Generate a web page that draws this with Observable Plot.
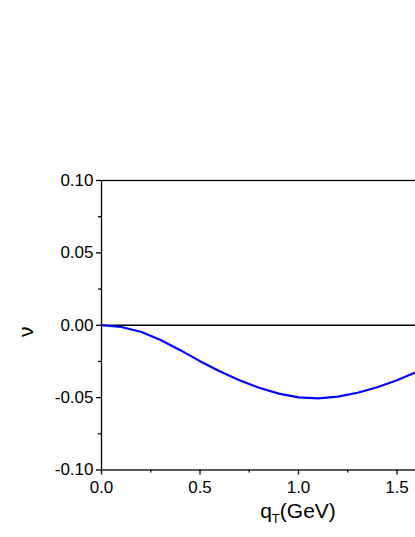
<!DOCTYPE html>
<html><head><meta charset="utf-8">
<script src="https://cdn.jsdelivr.net/npm/d3@7"></script>
<script src="https://cdn.jsdelivr.net/npm/@observablehq/plot@0.6"></script>
<style>html,body{margin:0;padding:0;overflow:hidden;background:#fff;width:415px;height:537px}#chart{width:520px}#chart svg{display:block;max-width:none !important;width:520px !important;height:537px !important}</style>
</head><body><div id="chart"></div>
<script>
const qT = [0, 0.1, 0.2, 0.3, 0.4, 0.5, 0.6, 0.7, 0.8, 0.9, 1.0, 1.1, 1.2, 1.3, 1.4, 1.5, 1.6];
const nu = [0, -0.0012, -0.0045, -0.0102, -0.0172, -0.0248, -0.0318, -0.0380, -0.0432, -0.0472, -0.0498, -0.0505, -0.0493, -0.0466, -0.0428, -0.0380, -0.0322];
const yTicks = [-0.10, -0.05, 0.00, 0.05, 0.10];
const yTickLabels = ["-0.10", "-0.05", "0.00", "0.05", "0.10"];
const yMinor = [-0.075, -0.025, 0.025, 0.075];
const xTicks = [0, 0.5, 1.0, 1.5];
const xTickLabels = ["0.0", "0.5", "1.0", "1.5"];
const xMinor = [0.25, 0.75, 1.25];
const xTitle = ["q", "T", "(GeV)"];
const yTitle = "ν";

const data = qT.map((q, i) => ({q, v: nu[i]}));
const font = "'Liberation Sans', Arial, Helvetica, sans-serif";

const chart = Plot.plot({
  width: 520, height: 537,
  marginLeft: 101, marginRight: 25, marginTop: 180, marginBottom: 67.5,
  style: {fontFamily: font, fontSize: "17px", background: "white", color: "black", overflow: "visible", maxWidth: "none"},
  x: {domain: [0, 2]},
  y: {domain: [-0.1, 0.1]},
  marks: [
    Plot.ruleY([0], {stroke: "black", strokeWidth: 1.3}),
    Plot.line(data, {x: "q", y: "v", stroke: "#0000ff", strokeWidth: 2.2}),
    Plot.frame({stroke: "black", strokeWidth: 1.3}),
    Plot.axisX(xTicks, {tickSize: 5, tickPadding: 6, strokeWidth: 1.3, fontSize: 17, label: null,
      tickFormat: d => xTickLabels[xTicks.indexOf(d)]}),
    Plot.axisX(xMinor, {tickSize: 3, strokeWidth: 1.3, label: null, tickFormat: () => ""}),
    Plot.axisY(yTicks, {tickSize: 5, tickPadding: 3, strokeWidth: 1.3, fontSize: 17, label: null,
      tickFormat: d => yTickLabels[yTicks.indexOf(d)]}),
    Plot.axisY(yMinor, {tickSize: 3, strokeWidth: 1.3, label: null, tickFormat: () => ""})
  ]
});
document.getElementById("chart").appendChild(chart);

const svg = d3.select(chart);
const xs = chart.scale("x");
const ys = chart.scale("y");
const t = svg.append("text")
  .attr("x", xs.apply(1.0))
  .attr("y", 518)
  .attr("text-anchor", "middle")
  .attr("font-family", font)
  .attr("font-size", 21)
  .attr("fill", "black");
t.append("tspan").text(xTitle[0]);
t.append("tspan").attr("font-size", 13).attr("dy", 5).text(xTitle[1]);
t.append("tspan").attr("dy", -5).text(xTitle[2]);

svg.append("text")
  .attr("transform", `translate(33,${ys.apply(0) + 7}) rotate(-90)`)
  .attr("text-anchor", "middle")
  .attr("font-family", font)
  .attr("font-size", 21)
  .attr("fill", "black")
  .text(yTitle);
</script>
</body></html>
